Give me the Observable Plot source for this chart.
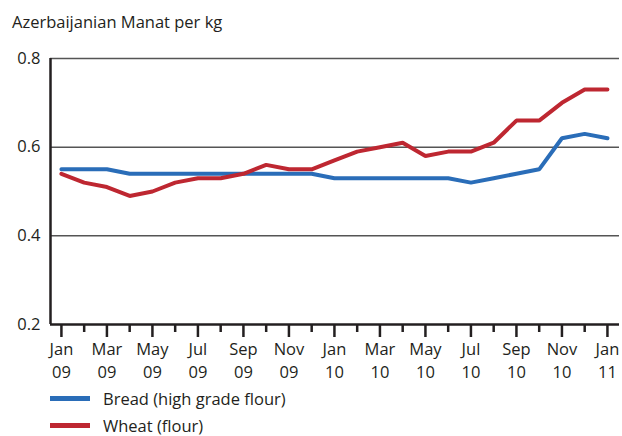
<!DOCTYPE html>
<html><head><meta charset="utf-8">
<script src="https://cdn.jsdelivr.net/npm/d3@7"></script>
<script src="https://cdn.jsdelivr.net/npm/@observablehq/plot@0.6"></script>
<style>
body{margin:0;background:#fff;font-family:"Open Sans",sans-serif;color:#231f20;}
#wrap{position:relative;width:622px;height:436px;}
#title{position:absolute;left:12px;top:10px;font-size:16.5px;}
#chart{position:absolute;left:0;top:40px;}
.leg{position:absolute;left:50px;font-size:16.5px;display:flex;align-items:center;}
.sw{width:40px;height:5px;margin-right:13px;}
</style></head>
<body><div id="wrap">
<div id="title">Azerbaijanian Manat per kg</div>
<div id="chart"></div>
<div class="leg" style="top:387px"><span class="sw" style="background:#2a6db8"></span>Bread (high grade flour)</div>
<div class="leg" style="top:414px"><span class="sw" style="background:#be2731"></span>Wheat (flour)</div>
</div>
<script>
const months = ["Jan 09","Feb 09","Mar 09","Apr 09","May 09","Jun 09","Jul 09","Aug 09","Sep 09","Oct 09","Nov 09","Dec 09",
"Jan 10","Feb 10","Mar 10","Apr 10","May 10","Jun 10","Jul 10","Aug 10","Sep 10","Oct 10","Nov 10","Dec 10","Jan 11"];
const bread = [0.55,0.55,0.55,0.54,0.54,0.54,0.54,0.54,0.54,0.54,0.54,0.54,
0.53,0.53,0.53,0.53,0.53,0.53,0.52,0.53,0.54,0.55,0.62,0.63,0.62];
const wheat = [0.54,0.52,0.51,0.49,0.50,0.52,0.53,0.53,0.54,0.56,0.55,0.55,
0.57,0.59,0.60,0.61,0.58,0.59,0.59,0.61,0.66,0.66,0.70,0.73,0.73];
const yTicks = [0.2,0.4,0.6,0.8];
const gridTicks = [0.4,0.6,0.8];
const seriesNames = ["Bread (high grade flour)","Wheat (flour)"];
const colors = ["#2a6db8","#be2731"];

const data = [];
months.forEach((m,i)=>{
  data.push({i, month:m, value:bread[i], series:seriesNames[0]});
  data.push({i, month:m, value:wheat[i], series:seriesNames[1]});
});
const idx = months.map((m,i)=>i);
const major = idx.filter(i=>i%2===0);
const minor = idx.filter(i=>i%2===1);
const x0 = -0.48, x1 = 24.53;

const chart = Plot.plot({
  width:622, height:346,
  marginLeft:50, marginRight:3, marginTop:18, marginBottom:62,
  style:{fontFamily:'"Open Sans",sans-serif', fontSize:"16.5px", color:"#231f20", background:"transparent"},
  x:{type:"linear", domain:[x0,x1], axis:null},
  y:{type:"linear", domain:[0.2,0.8], axis:null},
  color:{domain:seriesNames, range:colors},
  marks:[
    Plot.ruleY(gridTicks,{stroke:"#555", strokeWidth:1.5}),
    Plot.text(yTicks,{x:x0, y:d=>d, text:d=>d.toFixed(1), textAnchor:"end", dx:-10, fill:"#231f20"}),
    Plot.line(data,{x:"i", y:"value", z:"series", stroke:"series", strokeWidth:4, strokeLinejoin:"miter"}),
    Plot.ruleX([x0],{y1:0.2, y2:0.8, stroke:"#231f20", strokeWidth:2.5}),
    Plot.ruleY([0.2],{x1:x0, x2:x1, stroke:"#231f20", strokeWidth:2.5}),
    Plot.ruleX(major,{x:d=>d, y1:0.2, y2:0.2, stroke:"#231f20", strokeWidth:2.5, insetBottom:-13}),
    Plot.ruleX(minor,{x:d=>d, y1:0.2, y2:0.2, stroke:"#231f20", strokeWidth:2.5, insetBottom:-8}),
    Plot.text(major,{x:d=>d, y:0.2, text:d=>months[d].replace(" ","\n"), lineAnchor:"top", dy:15, lineHeight:1.35, fill:"#231f20"})
  ]
});
document.getElementById("chart").appendChild(chart);
</script>
</body></html>
